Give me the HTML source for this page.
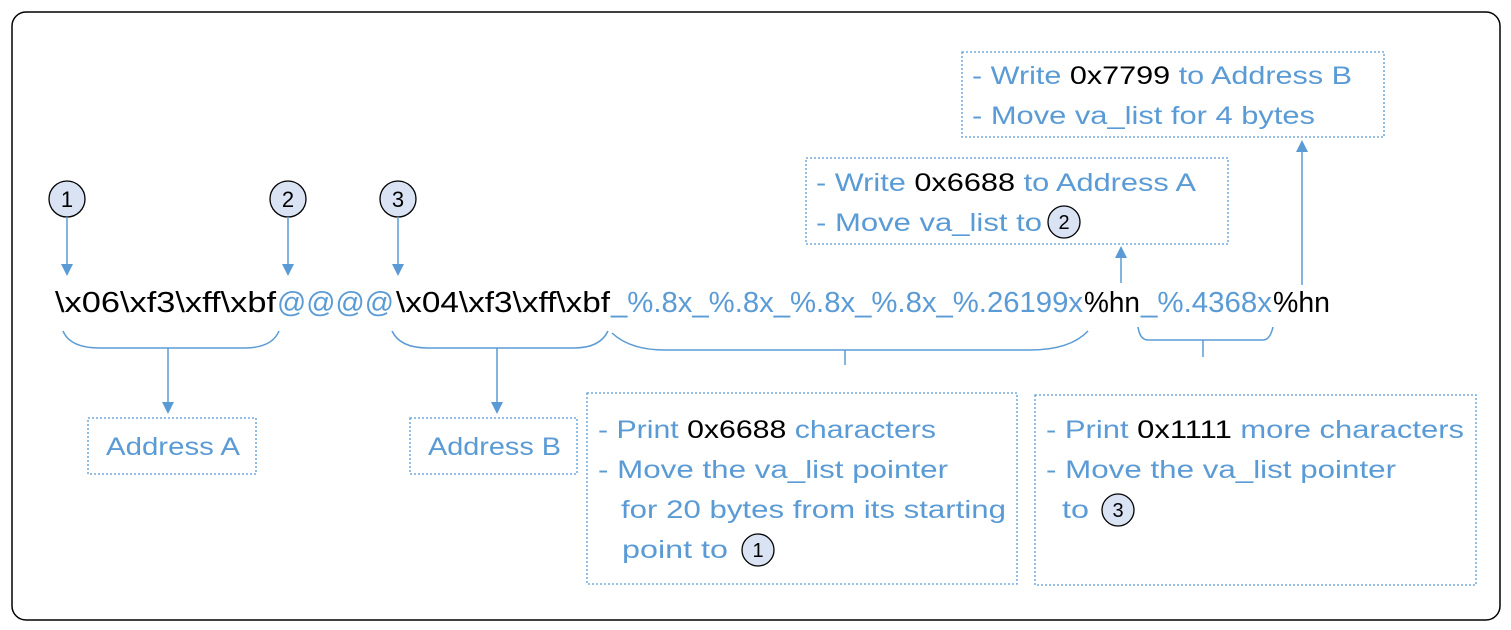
<!DOCTYPE html>
<html><head><meta charset="utf-8"><style>
html,body{margin:0;padding:0;background:#fff;}
svg{display:block;}
text{font-family:"Liberation Sans",sans-serif;}
.b{fill:#5b9bd5;}
.k{fill:#000;}
.box{fill:none;stroke:#5b9bd5;stroke-width:1.3;stroke-dasharray:2,2;}
.ln{fill:none;stroke:#5b9bd5;stroke-width:1.5;}
.c{fill:#dae3f3;stroke:#000;stroke-width:1.3;}
</style></head><body>
<svg width="1511" height="630" viewBox="0 0 1511 630" xmlns="http://www.w3.org/2000/svg">
<defs><marker id="ar" markerWidth="12" markerHeight="12" refX="6" refY="6" orient="auto" markerUnits="userSpaceOnUse"><path d="M0,0 L12,6 L0,12 z" fill="#5b9bd5"/></marker></defs>
<rect x="12" y="12" width="1488" height="608" rx="14" fill="none" stroke="#000" stroke-width="1.5"/>

<g font-size="22">
<circle class="c" cx="67" cy="199" r="18"/><text x="67" y="207" text-anchor="middle" class="k">1</text>
<circle class="c" cx="288" cy="199" r="18"/><text x="288" y="207" text-anchor="middle" class="k">2</text>
<circle class="c" cx="398" cy="199" r="18"/><text x="398" y="207" text-anchor="middle" class="k">3</text>
</g>
<line class="ln" x1="67" y1="217" x2="67" y2="270" marker-end="url(#ar)"/>
<line class="ln" x1="288" y1="217" x2="288" y2="270" marker-end="url(#ar)"/>
<line class="ln" x1="398" y1="217" x2="398" y2="270" marker-end="url(#ar)"/>

<g font-size="29">
<text x="55" y="312" textLength="221" lengthAdjust="spacingAndGlyphs" class="k">\x06\xf3\xff\xbf</text>
<text x="277" y="312" textLength="117" lengthAdjust="spacingAndGlyphs" class="b">@@@@</text>
<text x="396" y="312" textLength="214" lengthAdjust="spacingAndGlyphs" class="k">\x04\xf3\xff\xbf</text>
<text x="611" y="312" textLength="472" lengthAdjust="spacingAndGlyphs" class="b">_%.8x_%.8x_%.8x_%.8x_%.26199x</text>
<text x="1084" y="312" textLength="56" lengthAdjust="spacingAndGlyphs" class="k">%hn</text>
<text x="1141" y="312" textLength="131" lengthAdjust="spacingAndGlyphs" class="b">_%.4368x</text>
<text x="1273" y="312" textLength="57" lengthAdjust="spacingAndGlyphs" class="k">%hn</text>
</g>

<path class="ln" d="M63,331 Q70,348 100,348 L244,348 Q272,348 279,331"/>
<line class="ln" x1="168" y1="348" x2="168" y2="408" marker-end="url(#ar)"/>
<path class="ln" d="M392,331 Q400,348 428,348 L574,348 Q600,348 608,331"/>
<line class="ln" x1="497" y1="348" x2="497" y2="408" marker-end="url(#ar)"/>
<path class="ln" d="M612,333 Q630,350 665,350 L1030,350 Q1070,350 1088,331"/>
<line class="ln" x1="845" y1="350" x2="845" y2="365"/>
<path class="ln" d="M1138,327 Q1140,340 1148,340 L1263,340 Q1270,340 1273,327"/>
<line class="ln" x1="1203" y1="340" x2="1203" y2="357"/>
<line class="ln" x1="1121" y1="283" x2="1121" y2="252" marker-end="url(#ar)"/>
<line class="ln" x1="1302" y1="285" x2="1302" y2="146" marker-end="url(#ar)"/>

<rect class="box" x="962" y="52" width="422" height="85"/>
<rect class="box" x="806" y="158" width="422" height="86"/>
<rect class="box" x="88" y="418" width="168" height="56"/>
<rect class="box" x="410" y="418" width="167" height="56"/>
<rect class="box" x="587" y="393" width="430" height="191"/>
<rect class="box" x="1035" y="395" width="441" height="190"/>

<g font-size="25">
<text x="972" y="84" textLength="380" lengthAdjust="spacingAndGlyphs" class="b">- Write <tspan class="k">0x7799</tspan> to Address B</text>
<text x="972" y="124" textLength="343" lengthAdjust="spacingAndGlyphs" class="b">- Move va_list for 4 bytes</text>
<text x="816" y="191" textLength="380" lengthAdjust="spacingAndGlyphs" class="b">- Write <tspan class="k">0x6688</tspan> to Address A</text>
<text x="816" y="231" textLength="226" lengthAdjust="spacingAndGlyphs" class="b">- Move va_list to</text>
<text x="106" y="455" textLength="134" lengthAdjust="spacingAndGlyphs" class="b">Address A</text>
<text x="428" y="455" textLength="133" lengthAdjust="spacingAndGlyphs" class="b">Address B</text>
<text x="598" y="438" textLength="338" lengthAdjust="spacingAndGlyphs" class="b">- Print <tspan class="k">0x6688</tspan> characters</text>
<text x="598" y="478" textLength="350" lengthAdjust="spacingAndGlyphs" class="b">- Move the va_list pointer</text>
<text x="621" y="518" textLength="385" lengthAdjust="spacingAndGlyphs" class="b">for 20 bytes from its starting</text>
<text x="622" y="558" textLength="106" lengthAdjust="spacingAndGlyphs" class="b">point to</text>
<text x="1046" y="438" textLength="418" lengthAdjust="spacingAndGlyphs" class="b">- Print <tspan class="k">0x1111</tspan> more characters</text>
<text x="1046" y="478" textLength="350" lengthAdjust="spacingAndGlyphs" class="b">- Move the va_list pointer</text>
<text x="1062" y="518" textLength="27" lengthAdjust="spacingAndGlyphs" class="b">to</text>
</g>
<g font-size="20">
<circle class="c" cx="1064" cy="222" r="16"/><text x="1064" y="229" text-anchor="middle" class="k">2</text>
<circle class="c" cx="758" cy="550" r="16"/><text x="758" y="557" text-anchor="middle" class="k">1</text>
<circle class="c" cx="1118" cy="510" r="16"/><text x="1118" y="517" text-anchor="middle" class="k">3</text>
</g>
</svg>
</body></html>
